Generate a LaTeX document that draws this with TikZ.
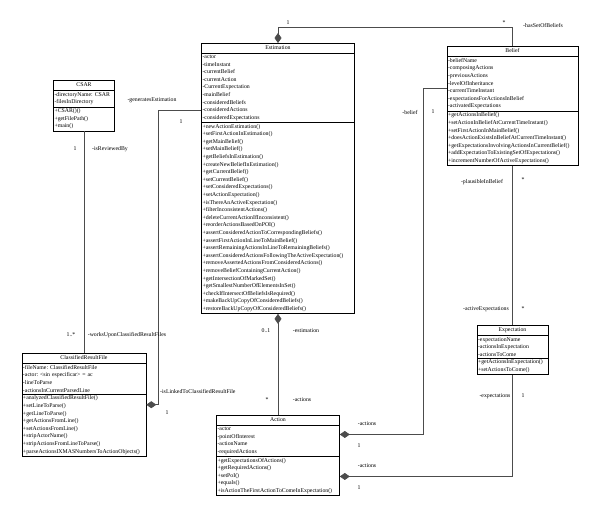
\documentclass[tikz,border=0pt]{standalone}
\usepackage{fontspec}
\setmainfont{Liberation Serif}
\usetikzlibrary{shapes.multipart,arrows.meta}

\newcommand{\classname}[1]{\hbox to\hsize{\hfil\rule[-2.5pt]{0pt}{6.5pt}#1\hfil}}

\begin{document}
\begin{tikzpicture}[x=1pt,y=1pt, font=\fontsize{5.8}{7.6}\selectfont\frenchspacing,
  umlclass/.style={draw, line width=.6pt, rectangle split, rectangle split parts=3,
    text width=#1, align=left, inner xsep=1pt, inner ysep=1.5pt, anchor=north},
  link/.style={draw=black!70, line width=.7pt},
  comp/.style={link, -{Diamond[length=10pt,width=7pt]}},
  lbl/.style={inner sep=0pt}]
\useasboundingbox (0,0) rectangle (600,-519);

% classes
\node[umlclass=151pt] (est) at (278,-43) {\classname{Estimation}
  \nodepart{two}-actor\\-timeInstant\\-currentBelief\\-currentAction\\-CurrentExpectation\\-mainBelief\\-consideredBeliefs\\-consideredActions\\-consideredExpectations
  \nodepart{three}+newActionEstimation()\\+setFirstActionInEstimation()\\+getMainBelief()\\+setMainBelief()\\+getBeliefsInEstimation()\\+createNewBeliefInEstimation()\\+getCurrentBelief()\\+setCurrentBelief()\\+setConsideredExpectations()\\+setActionExpectation()\\+isThereAnActiveExpectation()\\+filterInconsistentActions()\\+deleteCurrentActionIfInconsistent()\\+reorderActionsBasedOnPOI()\\+assertConsideredActionToCorrespondingBeliefs()\\+assertFirstActionInLineToMainBelief()\\+assertRemainingActionsInLineToRemainingBeliefs()\\+assertConsideredActionsFollowingTheActiveExpectation()\\+removeAssertedActionsFromConsideredActions()\\+removeBeliefContainingCurrentAction()\\+getIntersectionOfMarkedSet()\\+getSmallestNumberOfElementsInSet()\\+checkIfIntersectOfBeliefsIsRequired()\\+makeBackUpCopyOfConsideredBeliefs()\\+restoreBackUpCopyOfConsideredBeliefs()};
\node[umlclass=129pt] (bel) at (512.5,-46) {\classname{Belief}
  \nodepart{two}-beliefName\\-composingActions\\-previousActions\\-levelOfInheritance\\-currentTimeInstant\\-expectationsForActionsInBelief\\-activatedExpectations
  \nodepart{three}+getActionsInBelief()\\+setActionInBeliefAtCurrentTimeInstant()\\+setFirstActionInMainBelief()\\+doesActionExistsInBeliefAtCurrentTimeInstant()\\+getExpectationsInvolvingActionsInCurrentBelief()\\+addExpectationToExistingSetOfExpectations()\\+incrementNumberOfActiveExpectations()};
\node[umlclass=59pt] (csar) at (84,-80) {\classname{CSAR}
  \nodepart{two}-directoryName: CSAR\\-filesInDirectory
  \nodepart{three}+CSAR()()\\+getFilePath()\\+main()};
\node[umlclass=122pt] (crf) at (84,-353) {\classname{ClassifiedResultFile}
  \nodepart{two}-fileName: ClassifiedResultFile\\-actor: <sin especificar> = ac\\-lineToParse\\-actionsInCurrentParsedLine
  \nodepart{three}+analyzedClassifiedResultFile()\\+setLineToParse()\\+getLineToParse()\\+getActionsFromLine()\\+setActionsFromLine()\\+stripActorName()\\+stripActionsFromLineToParse()\\+parseActionsIXMASNumbersToActionObjects()};
\node[umlclass=121pt] (act) at (278,-415) {\classname{Action}
  \nodepart{two}-actor\\-pointOfInterest\\-actionName\\-requiredActions
  \nodepart{three}+getExpectationsOfActions()\\+getRequiredActions()\\+setPoI()\\+equals()\\+isActionTheFirstActionToComeInExpectation()};
\node[umlclass=69pt] (exp) at (512.5,-325) {\classname{Expectation}
  \nodepart{two}-expectationName\\-actionsInExpectation\\-actionsToCome
  \nodepart{three}+getActionsInExpectation()\\+setActionsToCome()};

% associations
\draw[comp] (bel.north) -- ++(0,19) -| (est.north);
\draw[comp] (act.north) -- (est.south);
\draw[link] (csar.south) -- (crf.north);
\draw[comp] ([yshift=12pt]est.two split west) -- ++(-43,0) |- (crf.east);
\draw[comp] ([yshift=18pt]bel.west) -- ++(-23,0) |- ([yshift=21pt]act.east);
\draw[comp] (exp.south) |- ([yshift=-21pt]act.east);
\draw[link] (bel.south) -- (exp.north);

% role names and multiplicities
\node[lbl] (m1) at (288,-23) {1};
\node[lbl] (m2) at (504,-23) {*};
\node[lbl] (r1) at (543,-25) {-hasSetOfBeliefs};
\node[lbl] (m3) at (266,-331) {0..1};
\node[lbl] (r2) at (306,-331) {-estimation};
\node[lbl] (m4) at (267,-400) {*};
\node[lbl] (r3) at (302,-400) {-actions};
\node[lbl] (m5) at (75,-149) {1};
\node[lbl] (r4) at (110,-149) {-isReviewedBy};
\node[lbl] (m6) at (71,-335) {1..*};
\node[lbl] (r5) at (127,-335) {-worksUponClassifiedResultFiles};
\node[lbl] (r6) at (152,-100) {-generatesEstimation};
\node[lbl] (m7) at (181,-122) {1};
\node[lbl, anchor=west] (r7) at (160,-391) {-isLinkedToClassifiedResultFile};
\node[lbl] (m8) at (167,-413) {1};
\node[lbl] (r8) at (410,-112) {-belief};
\node[lbl] (m9) at (433,-112) {1};
\node[lbl] (r9) at (367,-424) {-actions};
\node[lbl] (m10) at (359,-446) {1};
\node[lbl] (r10) at (495,-396) {-expectations};
\node[lbl] (m11) at (523,-396) {1};
\node[lbl] (r11) at (367,-466) {-actions};
\node[lbl] (m12) at (359,-488) {1};
\node[lbl] (r12) at (482,-182) {-plausibleInBelief};
\node[lbl] (m13) at (523,-180) {*};
\node[lbl] (r13) at (486,-309) {-activeExpectations};
\node[lbl] (m14) at (523,-309) {*};
\end{tikzpicture}
\end{document}
